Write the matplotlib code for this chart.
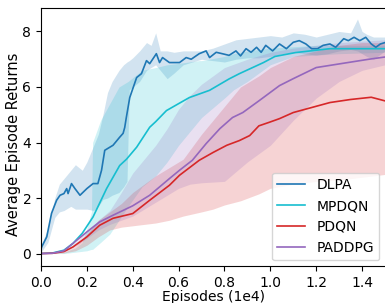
import matplotlib
matplotlib.use("Agg")
import matplotlib.pyplot as plt

# DLPA mean curve and band
dlpa_x = [0, 0.003, 0.025, 0.046, 0.068, 0.083, 0.10, 0.112, 0.118, 0.133, 0.148, 0.17, 0.2, 0.227,
          0.248, 0.264, 0.278, 0.29, 0.314, 0.343, 0.358, 0.365, 0.372, 0.387, 0.417, 0.438, 0.46,
          0.474, 0.503, 0.517, 0.53, 0.56, 0.604, 0.633, 0.655, 0.69, 0.72, 0.735, 0.764, 0.79, 0.82,
          0.85, 0.87, 0.894, 0.916, 0.94, 0.96, 0.98, 1.01, 1.04, 1.07, 1.1, 1.126, 1.155, 1.18,
          1.206, 1.23, 1.26, 1.285, 1.32, 1.34, 1.365, 1.39, 1.416, 1.44, 1.46, 1.48, 1.5]
dlpa_y = [0.15, 0.24, 0.6, 1.45, 1.92, 2.1, 2.16, 2.34, 2.16, 2.52, 2.34, 2.1, 2.34, 2.52,
          2.52, 3.0, 3.72, 3.78, 3.9, 4.19, 4.33, 4.54, 4.9, 5.62, 6.34, 6.48, 6.95,
          6.84, 7.2, 6.88, 7.06, 6.88, 6.88, 7.06, 7.0, 7.2, 7.3, 7.06, 7.25, 7.2, 7.14,
          7.3, 7.12, 7.38, 7.25, 7.43, 7.25, 7.5, 7.3, 7.55, 7.38, 7.61, 7.67, 7.55, 7.38,
          7.38, 7.5, 7.55, 7.43, 7.74, 7.67, 7.79, 7.67, 7.79, 7.55, 7.43, 7.55, 7.6]
dlpa_bx = [0, 0.03, 0.06, 0.08, 0.1, 0.13, 0.15, 0.18, 0.2, 0.23, 0.25, 0.27, 0.29, 0.31, 0.34,
           0.36, 0.375, 0.385, 0.40, 0.43, 0.46, 0.48, 0.50, 0.52, 0.55, 0.58, 0.62, 0.66, 0.70,
           0.75, 0.80, 0.85, 0.90, 0.95, 1.00, 1.05, 1.10, 1.15, 1.20, 1.25, 1.30, 1.35, 1.38,
           1.40, 1.42, 1.45, 1.50]
dlpa_lo = [0.05, 0.4, 1.3, 1.5, 1.55, 1.7, 1.6, 1.6, 1.6, 1.55, 1.7, 1.95, 2.0, 2.1, 2.2,
           2.4, 2.6, 5.9, 6.0, 6.2, 6.6, 6.7, 6.8, 6.6, 6.3, 6.5, 6.8, 6.9, 7.0,
           6.95, 6.9, 7.0, 7.05, 7.05, 7.1, 7.2, 7.25, 7.2, 7.15, 7.2, 7.3, 7.35, 7.3,
           7.2, 7.1, 7.0, 7.3]
dlpa_hi = [0.3, 0.9, 2.0, 2.5, 2.7, 3.0, 3.2, 3.0, 3.3, 3.9, 4.3, 5.0, 5.8, 6.2, 6.6,
           6.8, 6.9, 6.95, 7.05, 7.3, 7.6, 7.5, 7.95, 7.3, 7.3, 7.25, 7.3, 7.3, 7.3,
           7.4, 7.55, 7.7, 7.75, 7.8, 7.85, 7.8, 7.95, 7.9, 7.8, 7.9, 8.0, 7.95, 8.45,
           8.0, 7.9, 7.8, 7.8]

# MPDQN
mpdqn_x = [0, 0.05, 0.1, 0.14, 0.18, 0.227, 0.286, 0.343, 0.373, 0.417, 0.474, 0.5, 0.547, 0.6,
           0.647, 0.735, 0.82, 0.865, 0.97, 1.02, 1.11, 1.26, 1.5]
mpdqn_y = [0, 0.02, 0.12, 0.37, 0.73, 1.32, 2.34, 3.17, 3.4, 3.83, 4.55, 4.75, 5.15, 5.4,
           5.62, 5.88, 6.29, 6.48, 6.88, 7.1, 7.24, 7.38, 7.38]
mpdqn_bx = [0, 0.1, 0.15, 0.18, 0.2, 0.22, 0.225, 0.26, 0.3, 0.34, 0.38, 0.44, 0.5, 0.55, 0.6,
            0.69, 0.7, 0.8, 0.84, 0.9, 1.0, 1.1, 1.2, 1.3, 1.5]
mpdqn_lo = [0, 0, 0.05, 0.08, 0.1, 0.15, 0.15, 0.4, 0.7, 1.2, 1.7, 2.4, 2.8, 3.3, 3.9,
            4.8, 4.9, 5.6, 5.9, 6.2, 6.8, 7.1, 7.15, 7.2, 7.25]
mpdqn_hi = [0, 0.05, 0.2, 0.4, 0.9, 1.5, 4.0, 4.8, 5.4, 6.0, 6.2, 6.6, 6.7, 6.8, 6.85,
            6.95, 6.95, 7.1, 7.2, 7.3, 7.4, 7.45, 7.5, 7.5, 7.5]

# PDQN
pdqn_x = [0, 0.05, 0.1, 0.14, 0.2, 0.256, 0.314, 0.4, 0.474, 0.56, 0.604, 0.69, 0.75, 0.81,
          0.865, 0.91, 0.95, 0.996, 1.04, 1.1, 1.26, 1.35, 1.44, 1.5]
pdqn_y = [0, 0.01, 0.07, 0.24, 0.6, 1.02, 1.27, 1.44, 1.92, 2.46, 2.82, 3.36, 3.64, 3.9,
          4.07, 4.25, 4.6, 4.73, 4.86, 5.08, 5.44, 5.55, 5.63, 5.5]
pdqn_bx = [0, 0.1, 0.15, 0.2, 0.25, 0.3, 0.35, 0.4, 0.5, 0.56, 0.62, 0.7, 0.75, 0.8, 0.87,
           0.95, 1.0, 1.1, 1.2, 1.3, 1.4, 1.5]
pdqn_lo = [0, 0.02, 0.1, 0.3, 0.6, 0.85, 0.95, 1.0, 1.1, 1.2, 1.35, 1.5, 1.6, 1.75, 1.9,
           2.15, 2.35, 2.5, 2.6, 2.65, 2.75, 2.85]
pdqn_hi = [0, 0.05, 0.25, 0.7, 1.2, 1.5, 1.8, 2.2, 2.8, 3.1, 3.4, 4.3, 4.8, 5.3, 6.0,
           6.4, 6.7, 7.1, 7.3, 7.5, 7.6, 7.6]

# PADDPG
paddpg_x = [0, 0.05, 0.1, 0.14, 0.2, 0.256, 0.314, 0.4, 0.474, 0.56, 0.604, 0.66, 0.72, 0.78,
            0.835, 0.88, 0.95, 1.04, 1.1, 1.2, 1.33, 1.43, 1.5]
paddpg_y = [0, 0.01, 0.1, 0.37, 0.78, 1.14, 1.38, 1.72, 2.1, 2.7, 3.0, 3.36, 3.96, 4.5,
            4.9, 5.08, 5.5, 6.05, 6.3, 6.7, 6.87, 7.0, 7.08]
paddpg_bx = [0, 0.1, 0.15, 0.2, 0.25, 0.3, 0.35, 0.4, 0.45, 0.5, 0.55, 0.6, 0.65, 0.7, 0.8,
             0.9, 1.0, 1.1, 1.2, 1.3, 1.4, 1.5]
paddpg_lo = [0, 0.05, 0.25, 0.55, 0.85, 1.05, 1.2, 1.35, 1.6, 1.85, 2.1, 2.35, 2.5, 2.55, 2.6,
             3.3, 3.9, 4.8, 5.6, 6.2, 6.6, 6.8]
paddpg_hi = [0, 0.1, 0.4, 0.8, 1.2, 1.55, 2.2, 2.9, 3.4, 3.9, 4.5, 5.2, 5.7, 6.1, 6.7,
             7.0, 7.25, 7.4, 7.5, 7.6, 7.65, 7.7]

series = [
    ("DLPA", "tab:blue", dlpa_x, dlpa_y, dlpa_bx, dlpa_lo, dlpa_hi),
    ("MPDQN", "tab:cyan", mpdqn_x, mpdqn_y, mpdqn_bx, mpdqn_lo, mpdqn_hi),
    ("PDQN", "tab:red", pdqn_x, pdqn_y, pdqn_bx, pdqn_lo, pdqn_hi),
    ("PADDPG", "tab:purple", paddpg_x, paddpg_y, paddpg_bx, paddpg_lo, paddpg_hi),
]

fig = plt.figure(figsize=(3.85, 3.03), dpi=100)
ax = fig.add_axes([0.1065, 0.122, 0.8935, 0.852])

for name, color, x, y, bx, lo, hi in series:
    ax.plot(x, y, color=color, lw=1.2, label=name)
    ax.fill_between(bx, lo, hi, color=color, alpha=0.2, lw=0)

ax.set_xlim(0, 1.5)
ax.set_ylim(-0.45, 8.85)
ax.set_xticks([0.0, 0.2, 0.4, 0.6, 0.8, 1.0, 1.2, 1.4])
ax.set_yticks([0, 2, 4, 6, 8])
ax.spines["right"].set_visible(False)
ax.tick_params(labelsize=10)
ax.set_xlabel("Episodes (1e4)", fontsize=10)
ax.set_ylabel("Average Episode Returns", fontsize=10.5)
ax.xaxis.set_label_coords(0.5, -0.092)
ax.yaxis.set_label_coords(-0.058, 0.47)
ax.legend(loc="lower right", fontsize=10, borderaxespad=0.4)

fig.savefig("out.png", dpi=100)
